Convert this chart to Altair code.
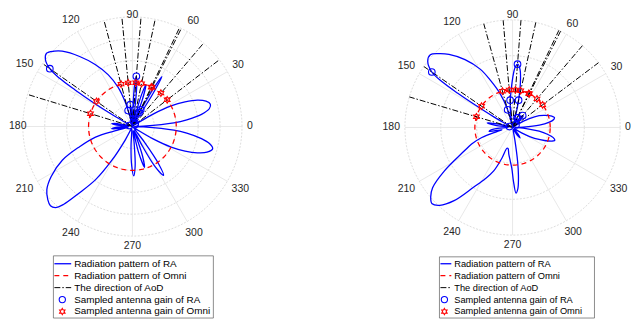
import altair as alt
import pandas as pd

# ---------------- data ----------------
ANGLE_TICKS = [0, 30, 60, 90, 120, 150, 180, 210, 240, 270, 300, 330]
ANGLE_LABELS = [str(a) for a in ANGLE_TICKS]

LEFT_RING_TICKS = [0.2, 0.4, 0.6, 0.8, 1.0]
RIGHT_RING_TICKS = [0.333, 0.667, 1.0]

LEFT_RA_ANGLE = [0, 2, 5, 7, 10, 13, 16, 19, 22, 25, 28, 31, 34, 37.5, 42, 46, 49.5, 53,
                 56, 58, 59.5, 61, 62.5, 63.5, 64.5, 66, 67.5, 69.5, 72, 74, 76, 78,
                 80, 82, 84, 85.5, 87, 88.5, 90, 92, 94, 95.5, 97, 99, 101,
                 103, 105, 106.5, 110, 115, 121, 127, 133, 136, 139.5, 142.5, 145, 146.5,
                 147.5, 148.5, 149.5, 151, 155, 160, 163, 166, 169, 172.5, 176, 178.5,
                 181, 183.5, 186.5, 189, 191, 194, 196, 201, 205.7, 211.6, 216.4, 220.8,
                 224, 226.5, 228.5, 231.3, 235.3, 238.7, 242, 245, 252, 258,
                 262, 266, 269, 271.5, 274, 276, 278, 281, 283.5, 286.5, 289, 291.5,
                 294, 297, 299.5, 302.5, 305, 307.5, 310, 316, 322,
                 326, 329, 332, 335, 338, 341, 344.5, 347.5, 350, 353, 355, 358, 360]
LEFT_RA_GAIN = [0.02, 0.10, 0.38, 0.50, 0.64, 0.72, 0.74, 0.71, 0.64, 0.53, 0.40, 0.22, 0.06, 0.03, 0.04, 0.06, 0.04, 0.02,
                0.03, 0.35, 0.53, 0.40, 0.22, 0.17, 0.14, 0.05, 0.04, 0.25, 0.40, 0.30, 0.10, 0.05,
                0.03, 0.15, 0.38, 0.46, 0.38, 0.15, 0.03, 0.04, 0.16, 0.20, 0.15, 0.03, 0.02,
                0.06, 0.15, 0.24, 0.38, 0.52, 0.66, 0.80, 0.94, 0.99, 1.03, 1.00, 0.92, 0.80,
                0.62, 0.42, 0.22, 0.05, 0.02, 0.03, 0.03, 0.04, 0.14, 0.19, 0.10, 0.03,
                0.06, 0.15, 0.19, 0.10, 0.04, 0.18, 0.35, 0.52, 0.71, 0.87, 0.97, 1.02,
                1.04, 1.02, 0.95, 0.78, 0.59, 0.36, 0.14, 0.03, 0.02, 0.03,
                0.04, 0.18, 0.36, 0.45, 0.36, 0.15, 0.04, 0.05, 0.25, 0.39, 0.28, 0.06,
                0.04, 0.20, 0.42, 0.53, 0.42, 0.18, 0.03, 0.02, 0.02,
                0.06, 0.22, 0.40, 0.53, 0.64, 0.72, 0.76, 0.72, 0.64, 0.50, 0.38, 0.10, 0.02]

RIGHT_RA_ANGLE = [0, 2, 5, 8, 11, 13.5, 16, 20, 24, 28, 32, 35, 37, 40, 44, 47, 49.5, 52, 55, 58,
                  61, 63.5, 65, 67.5, 70, 73, 75.5, 77.5, 80, 82.5, 85.3, 87.5, 90, 92.5, 94.8,
                  97, 99.5, 102, 104, 106, 110, 115, 119, 125, 131, 135, 138.5, 142, 145.5,
                  147, 148, 149, 150.5, 152, 158, 163.5, 166, 169.5, 173, 176, 180, 183,
                  186.5, 189.5, 192, 194.5, 198, 202, 206, 212.5, 217, 220.5, 223.5, 226.9,
                  231.4, 237, 242, 246.6, 251, 255, 258, 262, 266, 269, 271, 273, 275, 277,
                  278.5, 280.5, 283, 290, 298, 302, 306, 310, 314, 320, 325, 328, 332, 336,
                  339, 343, 346, 349, 352, 355, 358, 360]
RIGHT_RA_GAIN = [0.02, 0.10, 0.25, 0.34, 0.39, 0.40, 0.38, 0.33, 0.27, 0.17, 0.06, 0.02, 0.04, 0.05, 0.11, 0.145, 0.145, 0.12, 0.07, 0.04,
                 0.07, 0.10, 0.10, 0.05, 0.02, 0.03, 0.13, 0.26, 0.42, 0.54, 0.59, 0.56, 0.45, 0.33, 0.255,
                 0.16, 0.06, 0.03, 0.08, 0.19, 0.33, 0.48, 0.62, 0.77, 0.90, 0.97, 1.02, 1.00, 0.91,
                 0.78, 0.60, 0.40, 0.20, 0.04, 0.02, 0.03, 0.12, 0.24, 0.16, 0.04, 0.05, 0.14,
                 0.20, 0.22, 0.10, 0.15, 0.30, 0.41, 0.50, 0.75, 0.93, 1.00, 1.03, 0.99,
                 0.87, 0.66, 0.54, 0.44, 0.30, 0.20, 0.20, 0.25, 0.31, 0.38, 0.50, 0.61, 0.57, 0.45,
                 0.32, 0.12, 0.03, 0.02, 0.03, 0.09, 0.12, 0.08, 0.03, 0.02, 0.02, 0.06, 0.18, 0.28,
                 0.35, 0.41, 0.39, 0.33, 0.25, 0.14, 0.05, 0.02]

LEFT_OMNI_GAIN = 0.40
RIGHT_OMNI_GAIN = 0.35

LEFT_AOD = [37.5, 49.5, 63.5, 64.5, 78, 85.5, 95.5, 105, 145, 163]
LEFT_SAMPLED_RA = [0.03, 0.04, 0.17, 0.14, 0.05, 0.46, 0.20, 0.15, 0.92, 0.03]

RIGHT_AOD = [37, 49.5, 63.5, 64.5, 77.5, 85.5, 95, 105.5, 145.5, 163.5]
RIGHT_SAMPLED_RA = [0.04, 0.145, 0.10, 0.10, 0.26, 0.59, 0.255, 0.17, 0.91, 0.03]

LEGEND_LABELS = ["Radiation pattern of RA", "Radiation pattern of Omni", "The direction of AoD",
                 "Sampled antenna gain of RA", "Sampled antenna gain of Omni"]

# ---------------- layout / style ----------------
W, H = 632, 315
XS = alt.Scale(domain=[0, W], nice=False, zero=False)
YS = alt.Scale(domain=[0, H], nice=False, zero=False, reverse=True)
FONT = "Liberation Sans"
BLUE = "#0000ff"
RED = "#ff0000"
HEXAGRAM = ("M0,-1L0.289,-0.5L0.866,-0.5L0.577,0L0.866,0.5L0.289,0.5L0,1L-0.289,0.5"
            "L-0.866,0.5L-0.577,0L-0.866,-0.5L-0.289,-0.5Z")
HALF_DIGIT = 2.95  # half width of one tick-label digit, px


def X(f):
    return alt.X(f, type="quantitative", scale=XS, axis=None)


def Y(f):
    return alt.Y(f, type="quantitative", scale=YS, axis=None)


def panel(cx, cy, R, ring_ticks, ra_ang, ra_gain, omni, aod, samp_ra, leg):
    def to_xy(ch, g="gain", a="angle", xn="px", yn="py"):
        return ch.transform_calculate(**{
            xn: f"{cx} + {R}*datum.{g}*cos(datum.{a}*PI/180)",
            yn: f"{cy} - {R}*datum.{g}*sin(datum.{a}*PI/180)",
        })

    layers = []
    # rings
    ring_df = pd.DataFrame([(r, t) for r in ring_ticks for t in range(0, 362, 2)],
                           columns=["gain", "angle"])
    layers.append(to_xy(alt.Chart(ring_df)).mark_line(
        color="#d4d4d4", strokeWidth=0.8, strokeDash=[2, 1.5]).encode(
        x=X("px"), y=Y("py"), detail="gain:N", order="angle:Q"))
    # spokes
    sp_df = pd.DataFrame({"angle": ANGLE_TICKS, "g0": 0.0, "g1": 1.0})
    sp = to_xy(to_xy(alt.Chart(sp_df), g="g0", xn="x0", yn="y0"), g="g1", xn="x1", yn="y1")
    layers.append(sp.mark_rule(color="#e2e2e2", strokeWidth=0.8).encode(
        x=X("x0"), y=Y("y0"), x2="x1", y2="y1"))
    # angle labels (placed just outside the outer ring, kept inside the canvas)
    lab_df = pd.DataFrame({"angle": ANGLE_TICKS, "label": ANGLE_LABELS})
    hw = f"({HALF_DIGIT}*length(datum.label))"
    lr = (f"({R} + 5 + {hw}*abs(cos(datum.angle*PI/180)) + "
          f"5*abs(sin(datum.angle*PI/180)))")
    lab = alt.Chart(lab_df).transform_calculate(
        lx=f"min(max({cx} + {lr}*cos(datum.angle*PI/180), 1 + {hw}), {W} - 1 - {hw})",
        ly=f"max({cy} - {lr}*sin(datum.angle*PI/180), 5)")
    layers.append(lab.mark_text(font=FONT, fontSize=10.6, color="#262626",
                                align="center", baseline="middle").encode(
        x=X("lx"), y=Y("ly"), text="label:N"))
    # RA pattern
    ra_df = pd.DataFrame({"angle": ra_ang, "gain": ra_gain, "idx": range(len(ra_ang))})
    layers.append(to_xy(alt.Chart(ra_df)).mark_line(
        color=BLUE, strokeWidth=1.3, interpolate="catmull-rom").encode(
        x=X("px"), y=Y("py"), order="idx:Q"))
    # Omni pattern
    om_df = pd.DataFrame({"angle": list(range(0, 362, 2))})
    om_df["gain"] = omni
    layers.append(to_xy(alt.Chart(om_df)).mark_line(
        color=RED, strokeWidth=1.3, strokeDash=[5, 4]).encode(
        x=X("px"), y=Y("py"), order="angle:Q"))
    # AoD directions
    aod_df = pd.DataFrame({"angle": aod, "g0": 0.0, "g1": 1.0})
    ad = to_xy(to_xy(alt.Chart(aod_df), g="g0", xn="x0", yn="y0"), g="g1", xn="x1", yn="y1")
    layers.append(ad.mark_rule(color="black", strokeWidth=1.0,
                               strokeDash=[6, 2, 1.5, 2]).encode(
        x=X("x0"), y=Y("y0"), x2="x1", y2="y1"))
    # samples
    s_df = pd.DataFrame({"angle": aod, "gain": samp_ra})
    layers.append(to_xy(alt.Chart(s_df)).mark_point(
        shape="circle", filled=False, color=BLUE, size=45, strokeWidth=1.1, opacity=1).encode(
        x=X("px"), y=Y("py")))
    so_df = pd.DataFrame({"angle": aod})
    so_df["gain"] = omni
    layers.append(to_xy(alt.Chart(so_df)).mark_point(
        shape=HEXAGRAM, filled=False, color=RED, size=45, strokeWidth=1.1, opacity=1).encode(
        x=X("px"), y=Y("py")))

    # legend
    leg_df = pd.DataFrame({"label": LEGEND_LABELS, "row": range(len(LEGEND_LABELS))})
    base = alt.Chart(leg_df).transform_calculate(ly=f"{leg['top']} + datum.row*{leg['step']}")
    box = alt.Chart(pd.DataFrame({"k": [0]})).mark_rect(
        fill="white", stroke="#5a5a5a", strokeWidth=0.7).encode(
        x=alt.value(leg["x0"]), x2=alt.value(leg["x1"]),
        y=alt.value(leg["y0"]), y2=alt.value(leg["y1"]))
    layers.append(box)
    line_styles = [dict(color=BLUE, strokeWidth=1.3),
                   dict(color=RED, strokeWidth=1.3, strokeDash=[5, 4]),
                   dict(color="black", strokeWidth=1.0, strokeDash=[6, 2, 1.5, 2])]
    for i, st in enumerate(line_styles):
        layers.append(base.transform_filter(f"datum.row == {i}").mark_rule(**st).encode(
            x=alt.value(leg["lx0"]), x2=alt.value(leg["lx1"]), y=Y("ly")))
    layers.append(base.transform_filter("datum.row == 3").mark_point(
        shape="circle", filled=False, color=BLUE, size=40, strokeWidth=1.1, opacity=1).encode(
        x=alt.value(leg["mx"]), y=Y("ly")))
    layers.append(base.transform_filter("datum.row == 4").mark_point(
        shape=HEXAGRAM, filled=False, color=RED, size=40, strokeWidth=1.1, opacity=1).encode(
        x=alt.value(leg["mx"]), y=Y("ly")))
    layers.append(base.mark_text(font=FONT, fontSize=leg["fs"], color="black",
                                 align="left", baseline="middle").encode(
        x=alt.value(leg["tx"]), y=Y("ly"), text="label:N"))
    return layers


left_leg = dict(x0=46, x1=208, y0=249, y1=312, top=257, step=12.1,
                lx0=47, lx1=64, mx=55, tx=67, fs=10)
right_leg = dict(x0=437, x1=594, y0=250, y1=312, top=257, step=12.1,
                 lx0=438, lx1=449, mx=442, tx=452, fs=9.4)

layers = panel(126, 118, 111, LEFT_RING_TICKS, LEFT_RA_ANGLE, LEFT_RA_GAIN,
               LEFT_OMNI_GAIN, LEFT_AOD, LEFT_SAMPLED_RA, left_leg)
layers += panel(511, 119, 109, RIGHT_RING_TICKS, RIGHT_RA_ANGLE, RIGHT_RA_GAIN,
                RIGHT_OMNI_GAIN, RIGHT_AOD, RIGHT_SAMPLED_RA, right_leg)

chart = alt.layer(*layers).properties(
    width=W, height=H, padding=0,
    autosize=alt.AutoSizeParams(type="none"),
    background="white",
).configure_view(stroke=None)

chart.save("out.html", embed_options={"renderer": "svg", "actions": False})
